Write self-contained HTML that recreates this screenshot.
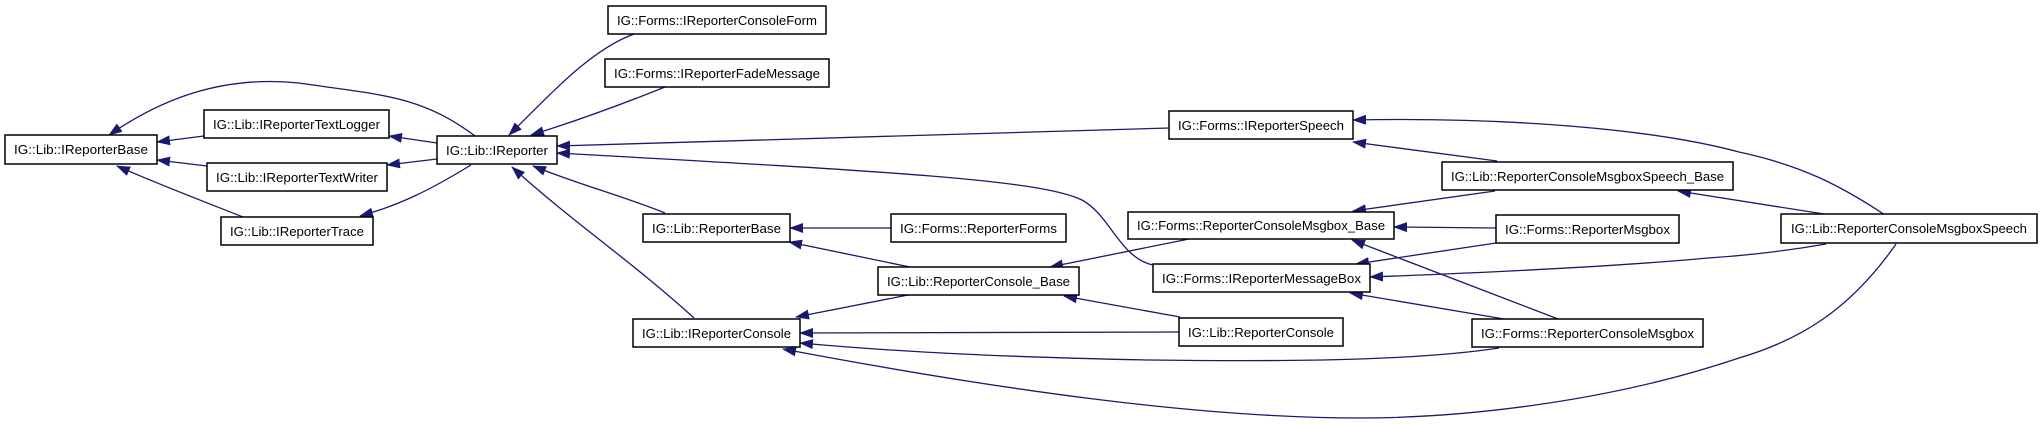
<!DOCTYPE html>
<html><head><meta charset="utf-8"><style>
html,body{margin:0;padding:0;background:#fff;}
svg{display:block;}
text{font-family:"Liberation Sans",sans-serif;font-size:13px;fill:#000;}
.b{fill:#fff;stroke:#000;stroke-width:1.5;}
.e{fill:none;stroke:#191970;stroke-width:1.3;}
</style></head><body>
<svg width="2043" height="424" viewBox="0 0 2043 424" xmlns="http://www.w3.org/2000/svg">
<defs>
<marker id="a" markerWidth="14" markerHeight="10" refX="13" refY="5" orient="auto" markerUnits="userSpaceOnUse">
<path d="M0,0 L14,5 L0,10 Z" fill="#191970"/>
</marker>
</defs>
<g class="e" marker-end="url(#a)">
<path d="M204,136 L157,142"/>
<path d="M207,166 L157,160"/>
<path d="M243,217 C200,200 160,185 117,166"/>
<path d="M475,136 C420,95 380,95 299,83 C220,75 160,100 109,135"/>
<path d="M437,143 L389,136"/>
<path d="M437,159 L387,165"/>
<path d="M471,165 C430,190 400,205 360,216"/>
<path d="M634,34 C590,50 550,95 509,135"/>
<path d="M665,87 C620,105 580,120 531,135"/>
<path d="M665,213 C620,195 580,185 533,166"/>
<path d="M694,318 C630,260 570,220 512,167"/>
<path d="M1169,128 L557,146"/>
<path d="M1153,265 C1120,258 1110,215 1082,200 C1040,180 900,172 557,153"/>
<path d="M891,228 L790,228"/>
<path d="M910,267 L789,242"/>
<path d="M908,295 L796,317"/>
<path d="M1189,239 L1050,267"/>
<path d="M1180,317 L1064,296"/>
<path d="M1179,332 L800,333"/>
<path d="M1499,348 C1420,360 1300,362 1150,360 C1000,357 900,352 800,343"/>
<path d="M1896,244 C1850,310 1800,340 1739,358 C1600,405 1450,418 1360,418 C1200,418 1000,390 783,349"/>
<path d="M1497,161 L1353,142"/>
<path d="M1885,215 C1840,185 1800,165 1739,152 C1650,128 1500,117 1353,120"/>
<path d="M1495,191 L1353,211"/>
<path d="M1824,214 L1678,191"/>
<path d="M1496,228 L1394,227"/>
<path d="M1558,319 L1352,240"/>
<path d="M1496,243 L1356,264"/>
<path d="M1826,244 C1780,252 1740,256 1708,258 C1600,268 1450,274 1370,277"/>
<path d="M1504,319 L1350,293"/>
</g>
<g>
<rect class="b" x="5" y="135" width="152" height="29"/><text x="81" y="154" text-anchor="middle" textLength="134" lengthAdjust="spacingAndGlyphs">IG::Lib::IReporterBase</text>
<rect class="b" x="204" y="110" width="185" height="28"/><text x="296.5" y="129" text-anchor="middle" textLength="167" lengthAdjust="spacingAndGlyphs">IG::Lib::IReporterTextLogger</text>
<rect class="b" x="207" y="163" width="180" height="28"/><text x="297" y="182" text-anchor="middle" textLength="162" lengthAdjust="spacingAndGlyphs">IG::Lib::IReporterTextWriter</text>
<rect class="b" x="221" y="217" width="152" height="28"/><text x="297" y="236" text-anchor="middle" textLength="134" lengthAdjust="spacingAndGlyphs">IG::Lib::IReporterTrace</text>
<rect class="b" x="437" y="136" width="120" height="28"/><text x="497" y="155" text-anchor="middle" textLength="102" lengthAdjust="spacingAndGlyphs">IG::Lib::IReporter</text>
<rect class="b" x="608" y="6" width="218" height="28"/><text x="717" y="25" text-anchor="middle" textLength="200" lengthAdjust="spacingAndGlyphs">IG::Forms::IReporterConsoleForm</text>
<rect class="b" x="605" y="59" width="224" height="28"/><text x="717" y="78" text-anchor="middle" textLength="206" lengthAdjust="spacingAndGlyphs">IG::Forms::IReporterFadeMessage</text>
<rect class="b" x="643" y="214" width="147" height="28"/><text x="716.5" y="233" text-anchor="middle" textLength="129" lengthAdjust="spacingAndGlyphs">IG::Lib::ReporterBase</text>
<rect class="b" x="633" y="319" width="167" height="28"/><text x="716.5" y="338" text-anchor="middle" textLength="149" lengthAdjust="spacingAndGlyphs">IG::Lib::IReporterConsole</text>
<rect class="b" x="1169" y="111" width="184" height="28"/><text x="1261" y="130" text-anchor="middle" textLength="166" lengthAdjust="spacingAndGlyphs">IG::Forms::IReporterSpeech</text>
<rect class="b" x="891" y="214" width="175" height="28"/><text x="978.5" y="233" text-anchor="middle" textLength="157" lengthAdjust="spacingAndGlyphs">IG::Forms::ReporterForms</text>
<rect class="b" x="878" y="267" width="201" height="28"/><text x="978.5" y="286" text-anchor="middle" textLength="183" lengthAdjust="spacingAndGlyphs">IG::Lib::ReporterConsole_Base</text>
<rect class="b" x="1128" y="212" width="266" height="27"/><text x="1261" y="230" text-anchor="middle" textLength="248" lengthAdjust="spacingAndGlyphs">IG::Forms::ReporterConsoleMsgbox_Base</text>
<rect class="b" x="1153" y="264" width="217" height="28"/><text x="1261.5" y="283" text-anchor="middle" textLength="199" lengthAdjust="spacingAndGlyphs">IG::Forms::IReporterMessageBox</text>
<rect class="b" x="1179" y="318" width="164" height="28"/><text x="1261" y="337" text-anchor="middle" textLength="146" lengthAdjust="spacingAndGlyphs">IG::Lib::ReporterConsole</text>
<rect class="b" x="1442" y="162" width="291" height="28"/><text x="1587.5" y="181" text-anchor="middle" textLength="273" lengthAdjust="spacingAndGlyphs">IG::Lib::ReporterConsoleMsgboxSpeech_Base</text>
<rect class="b" x="1496" y="215" width="183" height="28"/><text x="1587.5" y="234" text-anchor="middle" textLength="165" lengthAdjust="spacingAndGlyphs">IG::Forms::ReporterMsgbox</text>
<rect class="b" x="1472" y="319" width="231" height="28"/><text x="1587.5" y="338" text-anchor="middle" textLength="213" lengthAdjust="spacingAndGlyphs">IG::Forms::ReporterConsoleMsgbox</text>
<rect class="b" x="1781" y="214" width="256" height="29"/><text x="1909" y="233" text-anchor="middle" textLength="236" lengthAdjust="spacingAndGlyphs">IG::Lib::ReporterConsoleMsgboxSpeech</text>
</g>
</svg>
</body></html>
